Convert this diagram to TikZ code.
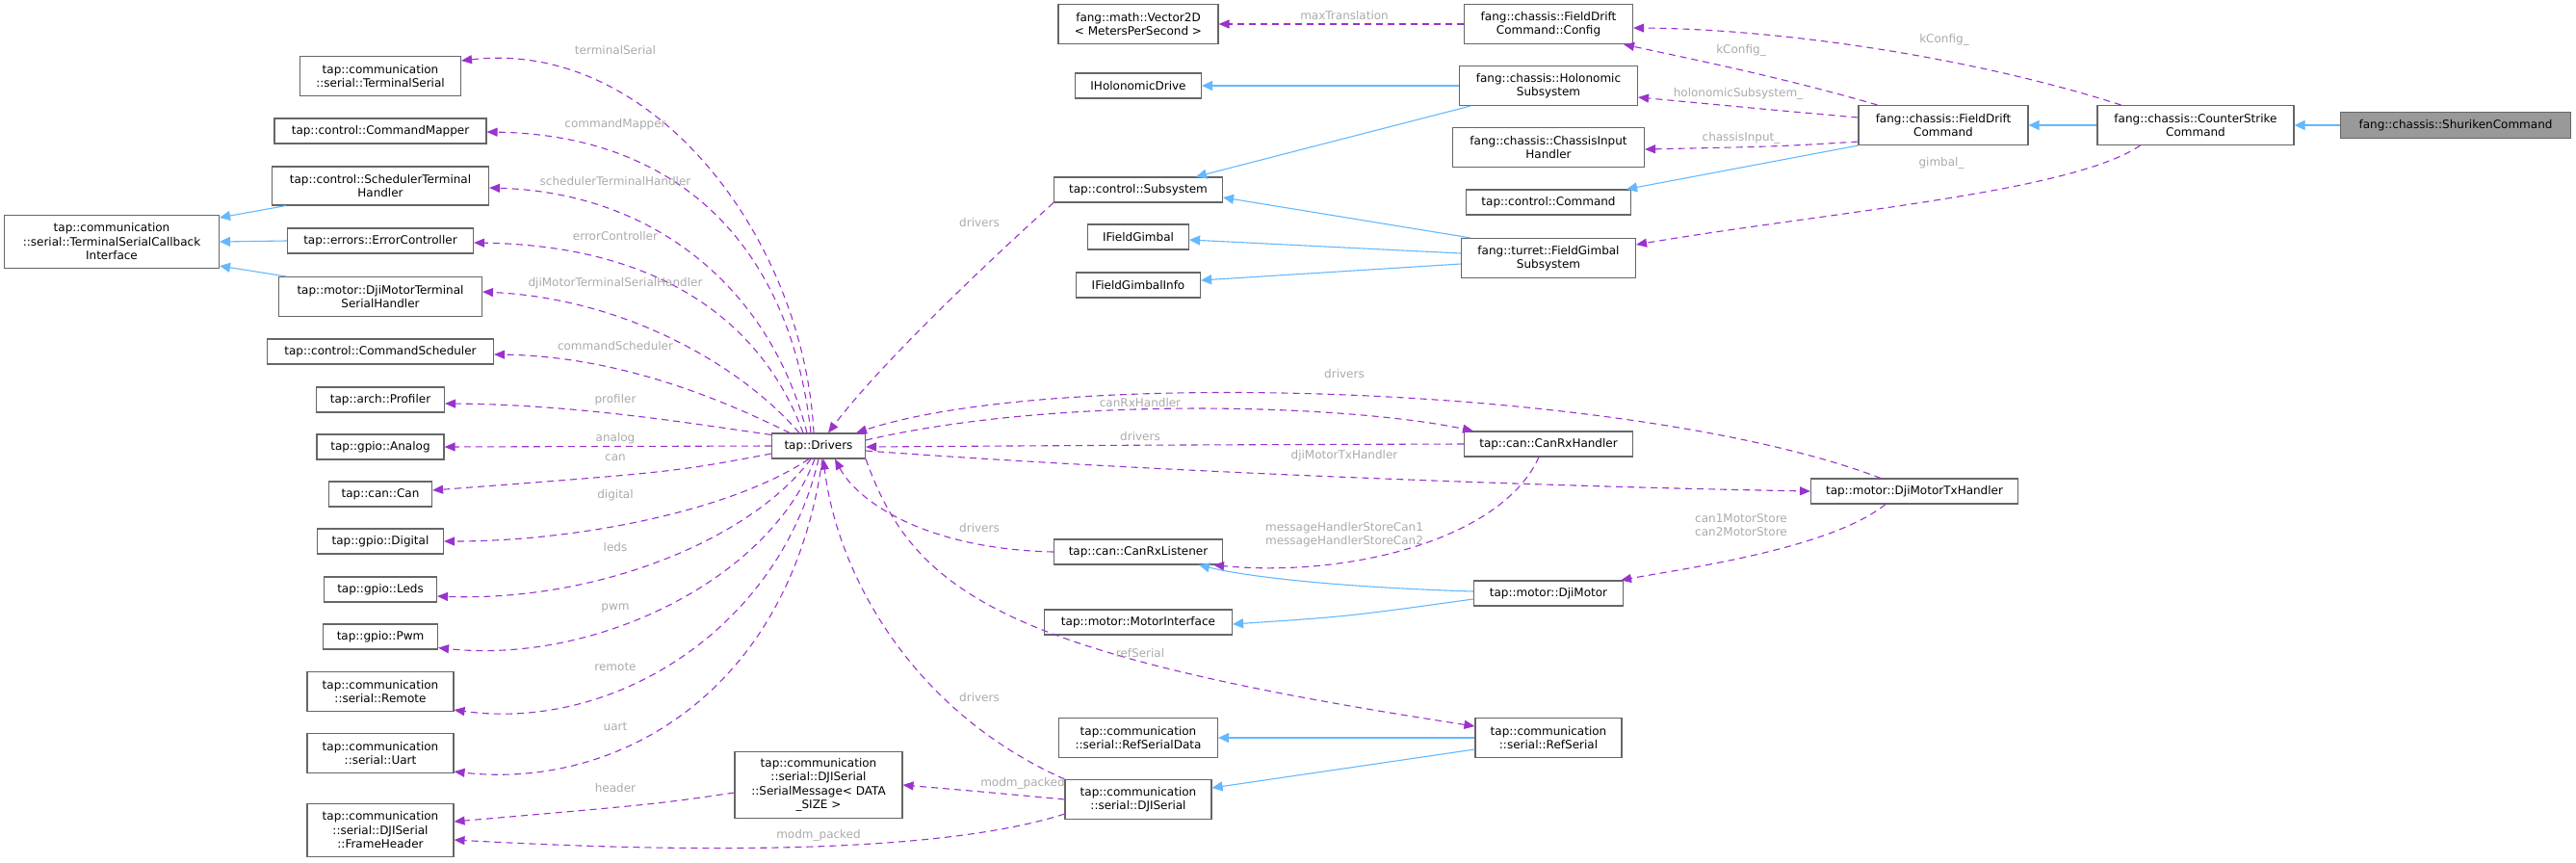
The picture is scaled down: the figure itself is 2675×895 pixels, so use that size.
\documentclass[tikz,border=0pt]{standalone}
\usepackage{fontspec}
\setmainfont{DejaVu Sans}
\usetikzlibrary{arrows.meta}
\definecolor{boxc}{HTML}{666666}
\definecolor{purp}{HTML}{9A32CD}
\definecolor{blu}{HTML}{63B8FF}
\definecolor{lab}{HTML}{AAAAAA}
\begin{document}
\begin{tikzpicture}[x=1pt,y=-1pt,
  box/.style={draw=boxc,line width=1.1pt,fill=white,align=center,inner sep=0pt,font=\fontsize{12}{14.5}\selectfont},
  use/.style={draw=purp,line width=1.1pt,dash pattern=on 7pt off 5pt,-{Triangle[length=11pt,width=9pt]}},
  inh/.style={draw=blu,line width=1.1pt,-{Triangle[length=11pt,width=10pt]}},
  lbl/.style={text=lab,font=\fontsize{12}{14.5}\selectfont,align=center,inner sep=0pt}]
\useasboundingbox (0,0) rectangle (2675,895);
% left column
\node[box,minimum width=167,minimum height=41] (ts) at (395,79) {tap::communication\\::serial::TerminalSerial};
\node[box,minimum width=220,minimum height=26] (cm) at (395,136) {tap::control::CommandMapper};
\node[box,minimum width=225,minimum height=40] (sth) at (395,193) {tap::control::SchedulerTerminal\\Handler};
\node[box,minimum width=223,minimum height=55] (tsci) at (116,251) {tap::communication\\::serial::TerminalSerialCallback\\Interface};
\node[box,minimum width=193,minimum height=26] (ec) at (395,250) {tap::errors::ErrorController};
\node[box,minimum width=211,minimum height=41] (dmtsh) at (395,308) {tap::motor::DjiMotorTerminal\\SerialHandler};
\node[box,minimum width=235,minimum height=26] (csch) at (395,365) {tap::control::CommandScheduler};
\node[box,minimum width=133,minimum height=26] (prof) at (395,415) {tap::arch::Profiler};
\node[box,minimum width=132,minimum height=26] (an) at (395,464) {tap::gpio::Analog};
\node[box,minimum width=107,minimum height=26] (can) at (395,513) {tap::can::Can};
\node[box,minimum width=131,minimum height=26] (dig) at (395,562) {tap::gpio::Digital};
\node[box,minimum width=117,minimum height=26] (leds) at (395,612) {tap::gpio::Leds};
\node[box,minimum width=119,minimum height=26] (pwm) at (395,661) {tap::gpio::Pwm};
\node[box,minimum width=152,minimum height=41] (rem) at (395,718) {tap::communication\\::serial::Remote};
\node[box,minimum width=152,minimum height=41] (uart) at (395,782) {tap::communication\\::serial::Uart};
\node[box,minimum width=152,minimum height=55] (fh) at (395,862) {tap::communication\\::serial::DJISerial\\::FrameHeader};
\node[box,minimum width=97,minimum height=26] (drv) at (850,463) {tap::Drivers};
\node[box,minimum width=174,minimum height=69] (sm) at (850,815) {tap::communication\\::serial::DJISerial\\::SerialMessage< DATA\\\_SIZE >};
% middle column
\node[box,minimum width=166,minimum height=41] (vec) at (1182,25) {fang::math::Vector2D\\< MetersPerSecond >};
\node[box,minimum width=131,minimum height=26] (ihol) at (1182,89) {IHolonomicDrive};
\node[box,minimum width=175,minimum height=26] (sub) at (1182,197) {tap::control::Subsystem};
\node[box,minimum width=105,minimum height=26] (ifg) at (1182,246) {IFieldGimbal};
\node[box,minimum width=129,minimum height=26] (ifgi) at (1182,296) {IFieldGimbalInfo};
\node[box,minimum width=175,minimum height=26] (cl) at (1182,573) {tap::can::CanRxListener};
\node[box,minimum width=195,minimum height=26] (mi) at (1182,646) {tap::motor::MotorInterface};
\node[box,minimum width=165,minimum height=41] (rsd) at (1182,766) {tap::communication\\::serial::RefSerialData};
\node[box,minimum width=152,minimum height=41] (dji) at (1182,830) {tap::communication\\::serial::DJISerial};
% right-middle column
\node[box,minimum width=175,minimum height=41] (cfg) at (1608,25) {fang::chassis::FieldDrift\\Command::Config};
\node[box,minimum width=185,minimum height=41] (hol) at (1608,89) {fang::chassis::Holonomic\\Subsystem};
\node[box,minimum width=199,minimum height=41] (cih) at (1608,153) {fang::chassis::ChassisInput\\Handler};
\node[box,minimum width=171,minimum height=26] (cmd) at (1608,210) {tap::control::Command};
\node[box,minimum width=181,minimum height=41] (fgs) at (1608,268) {fang::turret::FieldGimbal\\Subsystem};
\node[box,minimum width=175,minimum height=26] (crh) at (1608,461) {tap::can::CanRxHandler};
\node[box,minimum width=155,minimum height=26] (dm) at (1608,616) {tap::motor::DjiMotor};
\node[box,minimum width=152,minimum height=41] (rs) at (1608,766) {tap::communication\\::serial::RefSerial};
\node[box,minimum width=215,minimum height=26] (dmtx) at (1988,510) {tap::motor::DjiMotorTxHandler};
\node[box,minimum width=176,minimum height=41] (fdc) at (2018,130) {fang::chassis::FieldDrift\\Command};
\node[box,minimum width=204,minimum height=41] (cs) at (2280,130) {fang::chassis::CounterStrike\\Command};
\node[box,minimum width=239,minimum height=27,fill=black!40] (sh) at (2550,130) {fang::chassis::ShurikenCommand};
% inheritance
\draw[inh] (sh.west) -- (cs.east);
\draw[inh] (cs.west) -- (fdc.east);
\draw[inh] (fdc.south west) -- ([xshift=-5pt]cmd.north east);
\draw[inh] (hol.west) -- (ihol.east);
\draw[inh] ([xshift=12pt]hol.south west) -- ([xshift=60pt]sub.north);
\draw[inh] ([xshift=10pt]fgs.north west) -- ([yshift=-8pt]sub.east);
\draw[inh] ([yshift=5pt]fgs.west) -- ([yshift=-3pt]ifg.east);
\draw[inh] ([yshift=-6pt]fgs.west) -- ([yshift=5pt]ifgi.east);
\draw[inh] ([xshift=15pt]sth.south west) -- ([yshift=-3pt]tsci.north east);
\draw[inh] (ec.west) -- (tsci.east);
\draw[inh] ([xshift=8pt]dmtsh.north west) -- ([yshift=3pt]tsci.south east);
\draw[inh] ([yshift=2pt]dm.west) .. controls (1400,610) and (1300,600) .. ([xshift=-25pt]cl.south east);
\draw[inh] ([yshift=-6pt]dm.west) .. controls (1400,640) .. ([yshift=-2pt]mi.east);
\draw[inh] (rs.west) -- (rsd.east);
\draw[inh] ([yshift=-12pt]rs.west) -- ([yshift=12pt]dji.east);
% usage, left fan
\draw[use] ([xshift=-5pt]drv.north) .. controls (835,250) and (680,40) .. ([yshift=16pt]ts.east);
\draw[use] ([xshift=-8pt]drv.north) .. controls (820,250) and (700,140) .. ([yshift=-1pt]cm.east);
\draw[use] ([xshift=-12pt]drv.north) .. controls (800,300) and (680,200) .. ([yshift=-2pt]sth.east);
\draw[use] ([xshift=-16pt]drv.north) .. controls (790,330) and (680,255) .. ([yshift=-2pt]ec.east);
\draw[use] ([xshift=-20pt]drv.north) .. controls (770,380) and (650,310) .. ([yshift=5pt]dmtsh.east);
\draw[use] ([xshift=-30pt]drv.north) .. controls (760,420) and (650,370) .. ([yshift=-3pt]csch.east);
\draw[use] ([yshift=-2pt]drv.north west) .. controls (720,440) and (600,420) .. ([yshift=-4pt]prof.east);
\draw[use] (drv.west) -- (an.east);
\draw[use] ([yshift=-8pt]drv.west) .. controls (700,490) .. ([yshift=4pt]can.east);
\draw[use] ([xshift=-10pt]drv.south) .. controls (760,530) and (600,562) .. (dig.east);
\draw[use] ([xshift=-8pt]drv.south) .. controls (780,560) and (620,625) .. ([yshift=-7pt]leds.east);
\draw[use] ([xshift=-4pt]drv.south) .. controls (800,600) and (620,690) .. ([yshift=2pt]pwm.south east);
\draw[use] (drv.south) .. controls (810,650) and (640,760) .. ([yshift=2pt]rem.south east);
\draw[use] ([xshift=4pt]drv.south) .. controls (820,720) and (640,820) .. ([yshift=2pt]uart.south east);
\draw[use] ([yshift=-8pt]sm.west) .. controls (680,835) .. ([yshift=9pt]fh.east);
\draw[use] ([yshift=6pt]dji.south west) .. controls (950,895) and (620,880) .. ([yshift=-10pt]fh.east);
\draw[use] (dji.west) .. controls (1020,822) .. (sm.east);
% usage, Drivers links
\draw[use] (dji.north west) .. controls (950,740) and (870,600) .. ([xshift=5pt]drv.south);
\draw[use] (cl.west) .. controls (960,570) and (890,520) .. ([xshift=-32pt]drv.south east);
\draw[use] (sub.south west) .. controls (1050,250) and (920,370) .. ([xshift=10pt]drv.north);
\draw[use] (drv.south east) .. controls (950,620) and (1050,680) .. ([yshift=12pt]rs.west);
\draw[use] ([yshift=6pt]drv.east) .. controls (1100,410) and (1400,420) .. ([xshift=10pt]crh.north west);
\draw[use] (crh.west) .. controls (1200,462) .. ([yshift=-1pt]drv.east);
\draw[use] ([yshift=-5pt]drv.east) .. controls (1200,490) and (1600,505) .. (dmtx.west);
\draw[use] ([xshift=-35pt]dmtx.north) .. controls (1700,400) and (1100,380) .. ([xshift=-10pt]drv.north east);
\draw[use] ([xshift=-10pt]crh.south) .. controls (1560,560) and (1400,600) .. ([xshift=-10pt]cl.south east);
\draw[use] ([xshift=-30pt]dmtx.south) .. controls (1900,570) and (1750,590) .. ([xshift=-3pt]dm.north east);
% usage, top right
\draw[use] (cfg.west) -- (vec.east);
\draw[use] ([xshift=20pt]fdc.north west) .. controls (1850,80) and (1750,60) .. ([xshift=-10pt]cfg.south east);
\draw[use] ([xshift=25pt]cs.north west) .. controls (2050,60) and (1850,30) .. ([yshift=-4pt]cfg.east);
\draw[use] ([yshift=8pt]fdc.west) .. controls (1850,115) .. ([yshift=-12pt]hol.east);
\draw[use] ([yshift=4pt]fdc.south west) .. controls (1850,152) .. ([yshift=-2pt]cih.east);
\draw[use] ([xshift=45pt]cs.south west) .. controls (2150,200) and (1900,220) .. ([yshift=14pt]fgs.east);
% labels
\node[lbl] (l1) at (639,52) {terminalSerial};
\node[lbl] (l2) at (639,129) {commandMapper};
\node[lbl] (l3) at (639,188) {schedulerTerminalHandler};
\node[lbl] (l4) at (639,245) {errorController};
\node[lbl] (l5) at (639,294) {djiMotorTerminalSerialHandler};
\node[lbl] (l6) at (639,359) {commandScheduler};
\node[lbl] (l7) at (639,415) {profiler};
\node[lbl] (l8) at (639,455) {analog};
\node[lbl] (l9) at (639,475) {can};
\node[lbl] (l10) at (639,514) {digital};
\node[lbl] (l11) at (639,568) {leds};
\node[lbl] (l12) at (639,631) {pwm};
\node[lbl] (l13) at (639,692) {remote};
\node[lbl] (l14) at (639,754) {uart};
\node[lbl] (l15) at (639,818) {header};
\node[lbl] (l16) at (850,867) {modm\_packed};
\node[lbl] (l17) at (1062,813) {modm\_packed};
\node[lbl] (l18) at (1017,231) {drivers};
\node[lbl] (l19) at (1017,548) {drivers};
\node[lbl] (l20) at (1017,724) {drivers};
\node[lbl] (l21) at (1396,16) {maxTranslation};
\node[lbl] (l22) at (1396,388) {drivers};
\node[lbl] (l23) at (1184,418) {canRxHandler};
\node[lbl] (l24) at (1184,453) {drivers};
\node[lbl] (l25) at (1396,473) {djiMotorTxHandler};
\node[lbl] (l26) at (1396,555) {messageHandlerStoreCan1\\messageHandlerStoreCan2};
\node[lbl] (l27) at (1808,545) {can1MotorStore\\can2MotorStore};
\node[lbl] (l28) at (1184,678) {refSerial};
\node[lbl] (l29) at (1808,52) {kConfig\_};
\node[lbl] (l30) at (1805,97) {holonomicSubsystem\_};
\node[lbl] (l31) at (1808,143) {chassisInput\_};
\node[lbl] (l32) at (2019,41) {kConfig\_};
\node[lbl] (l33) at (2016,169) {gimbal\_};
\end{tikzpicture}
\end{document}
